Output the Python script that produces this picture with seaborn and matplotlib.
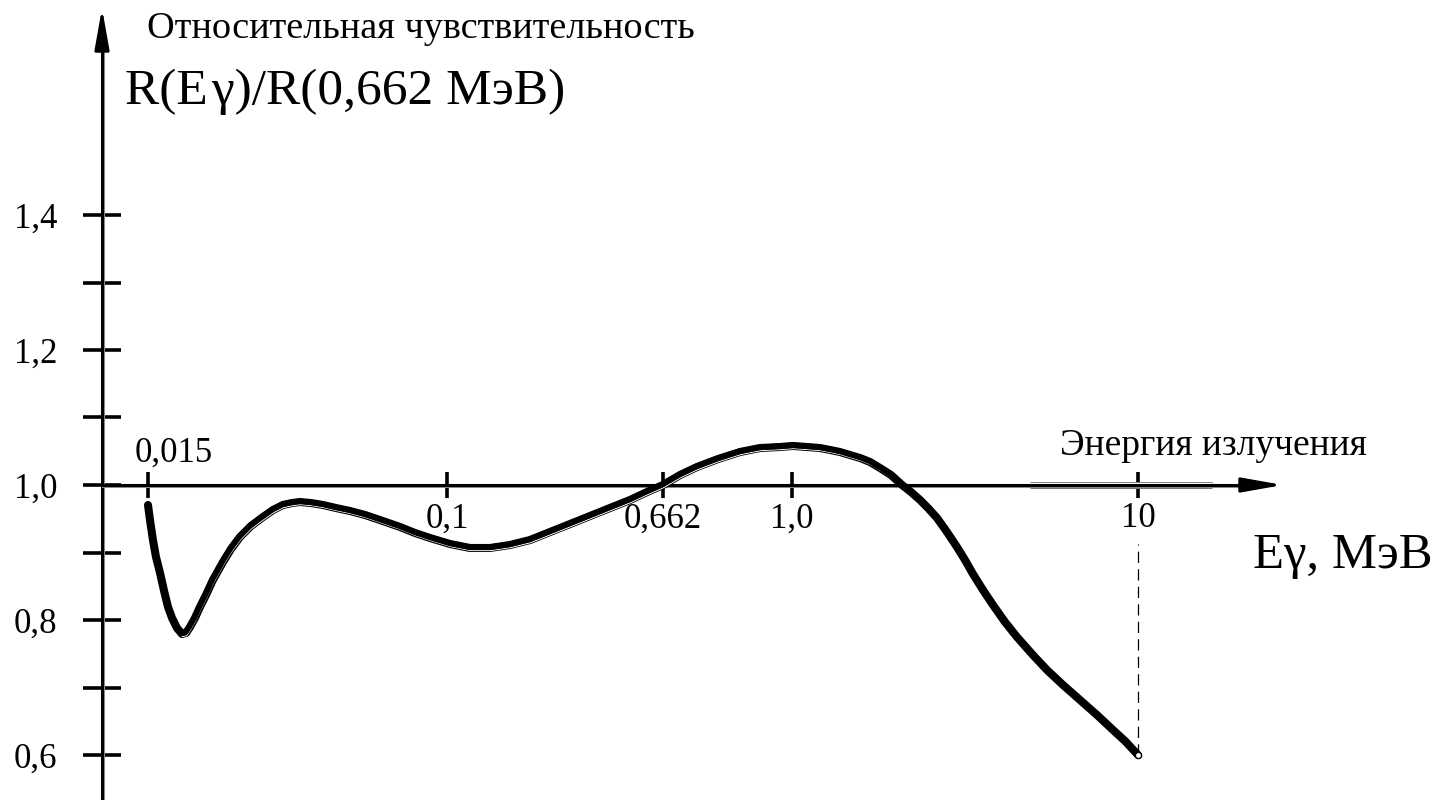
import numpy as np
import pandas as pd
import matplotlib
matplotlib.use("Agg")
import matplotlib.pyplot as plt
import matplotlib.patheffects as pe
from matplotlib.ticker import FixedLocator, FixedFormatter
import seaborn as sns

# Photon energy, MeV
energy = [0.01500, 0.01519, 0.01548, 0.01578, 0.01619, 0.01661, 0.01703, 0.01747,
          0.01803, 0.01861, 0.01909, 0.01958, 0.02021, 0.02086, 0.02167, 0.02265,
          0.02414, 0.02540, 0.02689, 0.02883, 0.03112, 0.03316, 0.03532, 0.03739,
          0.03936, 0.04220, 0.04554, 0.04944, 0.05404, 0.05943, 0.06537, 0.07424,
          0.08164, 0.08979, 0.1027, 0.1223, 0.1457, 0.1735, 0.2068, 0.2573,
          0.3203, 0.3986, 0.4961, 0.5757, 0.662, 0.6991, 0.7381, 0.7894,
          0.8469, 0.9028, 0.9624, 1.007, 1.105, 1.205, 1.288, 1.376,
          1.471, 1.573, 1.681, 1.796, 1.933, 2.080, 2.208, 2.344,
          2.472, 2.625, 2.805, 2.998, 3.162, 3.335, 3.565, 3.810,
          4.127, 4.470, 4.940, 5.458, 6.072, 6.798, 7.612, 8.471,
          9.233, 10.0]
# Relative sensitivity R(E)/R(0.662 MeV)
response = [0.9704, 0.9481, 0.9185, 0.8933, 0.8696, 0.8430, 0.8193, 0.8030,
            0.7881, 0.7793, 0.7807, 0.7896, 0.8030, 0.8193, 0.8370, 0.8593,
            0.8859, 0.9052, 0.9230, 0.9393, 0.9526, 0.9630, 0.9704, 0.9733,
            0.9748, 0.9733, 0.9704, 0.9659, 0.9615, 0.9556, 0.9481, 0.9378,
            0.9289, 0.9215, 0.9126, 0.9067, 0.9067, 0.9111, 0.9185, 0.9333,
            0.9481, 0.9630, 0.9778, 0.9896, 1.0000, 1.0148, 1.0267, 1.0385,
            1.0489, 1.0548, 1.0563, 1.0578, 1.0563, 1.0548, 1.0519, 1.0489,
            1.0444, 1.0400, 1.0341, 1.0252, 1.0148, 1.0000, 0.9896, 0.9778,
            0.9659, 0.9511, 0.9304, 0.9081, 0.8889, 0.8681, 0.8444, 0.8222,
            0.7970, 0.7748, 0.7496, 0.7259, 0.7037, 0.6815, 0.6593, 0.6370,
            0.6193, 0.6000]

x_ticks = [0.015, 0.1, 0.662, 1.0, 10.0]
x_tick_labels = ["", "0,1", "0,662", "1,0", "10"]
y_ticks = [0.6, 0.8, 1.0, 1.2, 1.4]
y_tick_labels = ["0,6", "0,8", "1,0", "1,2", "1,4"]
y_minor_ticks = [0.7, 0.9, 1.1, 1.3]

# Hand-drawn energy axis: scale knots (log10 E -> drawing units)
SCALE_LOG = np.log10([0.015, 0.1, 0.662, 1.0, 10.0])
SCALE_POS = np.array([148.0, 447.0, 663.0, 792.0, 1138.0])


def _piecewise(x, xs, ys):
    x = np.asarray(x, dtype=float)
    y = np.interp(x, xs, ys)
    lo_slope = (ys[1] - ys[0]) / (xs[1] - xs[0])
    hi_slope = (ys[-1] - ys[-2]) / (xs[-1] - xs[-2])
    y = np.where(x < xs[0], ys[0] + (x - xs[0]) * lo_slope, y)
    y = np.where(x > xs[-1], ys[-1] + (x - xs[-1]) * hi_slope, y)
    return y


def forward(e):
    return _piecewise(np.log10(np.clip(np.asarray(e, dtype=float), 1e-12, None)),
                      SCALE_LOG, SCALE_POS)


def inverse(u):
    return 10.0 ** _piecewise(u, SCALE_POS, SCALE_LOG)


sns.set_theme(style="white")
plt.rcParams["font.family"] = ["Liberation Serif", "DejaVu Serif"]
plt.rcParams["text.color"] = "black"

W, H = 1441, 800
fig = plt.figure(figsize=(W / 100, H / 100), dpi=100)
ax = fig.add_axes([0, 0, 1, 1])
ax.set_facecolor("white")

ax.set_xscale("function", functions=(forward, inverse))
ax.set_xlim(float(inverse(0)), float(inverse(W)))
y_bottom, y_top = 1 - 315 / 675, 1 + 485 / 675
ax.set_ylim(y_bottom, y_top)

e_axis = float(inverse(102))      # where the ordinate crosses
e_arrow = float(inverse(1283))    # tip of the energy arrow
e_line_end = float(inverse(1255))
v_arrow = 1 + 477 / 675
v_line_end = 1 + 440 / 675

axis_fx = [pe.SimpleLineShadow(offset=(1.0, -1.0), shadow_color="0.55", alpha=1.0),
           pe.Normal()]

for side in ("top", "right"):
    ax.spines[side].set_visible(False)
ax.spines["left"].set_position(("data", e_axis))
ax.spines["bottom"].set_position(("data", 1.0))
ax.spines["left"].set_bounds(y_bottom, v_line_end)
ax.spines["bottom"].set_bounds(e_axis, e_line_end)
for side in ("left", "bottom"):
    ax.spines[side].set_linewidth(2.2)
    ax.spines[side].set_color("black")
    ax.spines[side].set_path_effects(axis_fx)

# double-lined stretch of the energy axis
seg = [float(inverse(1030)), float(inverse(1212))]
ax.plot(seg, [1.0, 1.0], color="0.45", lw=5.0, solid_capstyle="butt", zorder=1)
ax.plot(seg, [1.0, 1.0], color="white", lw=3.0, solid_capstyle="butt", zorder=1.5)

arrow_style = "-|>,head_length=0.62,head_width=0.11"
ax.annotate("", xy=(e_axis, v_arrow), xytext=(e_axis, v_line_end - 0.01),
            arrowprops=dict(arrowstyle=arrow_style, mutation_scale=40, color="black",
                            lw=2.2, shrinkA=0, shrinkB=0))
ax.annotate("", xy=(e_arrow, 1.0), xytext=(e_line_end - 0.5, 1.0),
            arrowprops=dict(arrowstyle=arrow_style, mutation_scale=40, color="black",
                            lw=2.2, shrinkA=0, shrinkB=0))

# ticks
ax.xaxis.set_major_locator(FixedLocator(x_ticks))
ax.xaxis.set_major_formatter(FixedFormatter(x_tick_labels))
ax.xaxis.set_minor_locator(FixedLocator([]))
ax.yaxis.set_major_locator(FixedLocator(y_ticks))
ax.yaxis.set_major_formatter(FixedFormatter(y_tick_labels))
ax.yaxis.set_minor_locator(FixedLocator(y_minor_ticks))
ax.tick_params(axis="x", which="major", direction="inout", length=19, width=2.6,
               bottom=True, labelsize=25, pad=3, colors="black")
ax.tick_params(axis="y", which="both", direction="inout", length=27, width=2.6,
               left=True, labelsize=25, pad=18.5, colors="black")
for t in ax.yaxis.get_major_ticks():
    if abs(t.get_loc() - 1.0) < 1e-9:
        t.tick1line.set_visible(False)
ax.grid(False)

ax.annotate("0,015", xy=(x_ticks[0], 1.0), xytext=(-9.5, 17), textcoords="offset points",
            ha="left", va="baseline", fontsize=25, color="black")

# response curve: heavy double stroke
df = pd.DataFrame({"energy": energy, "response": response})
curve_fx = [pe.Stroke(linewidth=5.8, foreground="black"),
            pe.Stroke(linewidth=0.7, foreground="white", offset=(0.5, -1.9)),
            pe.Stroke(linewidth=4.0, foreground="black", offset=(-0.3, 0.5))]
sns.lineplot(data=df, x="energy", y="response", ax=ax, color="black", lw=5.8,
             estimator=None, sort=False, path_effects=curve_fx,
             solid_capstyle="round", solid_joinstyle="round", zorder=5)
ax.plot([energy[-1]], [response[-1]], marker="o", ms=4.5, mfc="white", mec="black",
        mew=1.0, zorder=6)

# drop line at 10 MeV
ax.plot([energy[-1], energy[-1]], [response[-1], 0.913], color="black", lw=0.9,
        ls=(0, (9, 5)), zorder=3)

ax.set_xlabel("")
ax.set_ylabel("")

fig.text(147 / W, 1 - 38 / H, "Относительная чувствительность", ha="left",
         va="baseline", fontsize=27.5, color="black")
fig.text(125 / W, 1 - 104 / H, "R(E\u200aγ)/R(0,662 МэВ)", ha="left", va="baseline",
         fontsize=37, color="black")
fig.text(1060 / W, 1 - 455 / H, "Энергия излучения", ha="left", va="baseline",
         fontsize=27, color="black")
fig.text(1253 / W, 1 - 568 / H, "Eγ, МэВ", ha="left", va="baseline", fontsize=36.5,
         color="black")

fig.savefig("out.png", dpi=100, facecolor="white")
